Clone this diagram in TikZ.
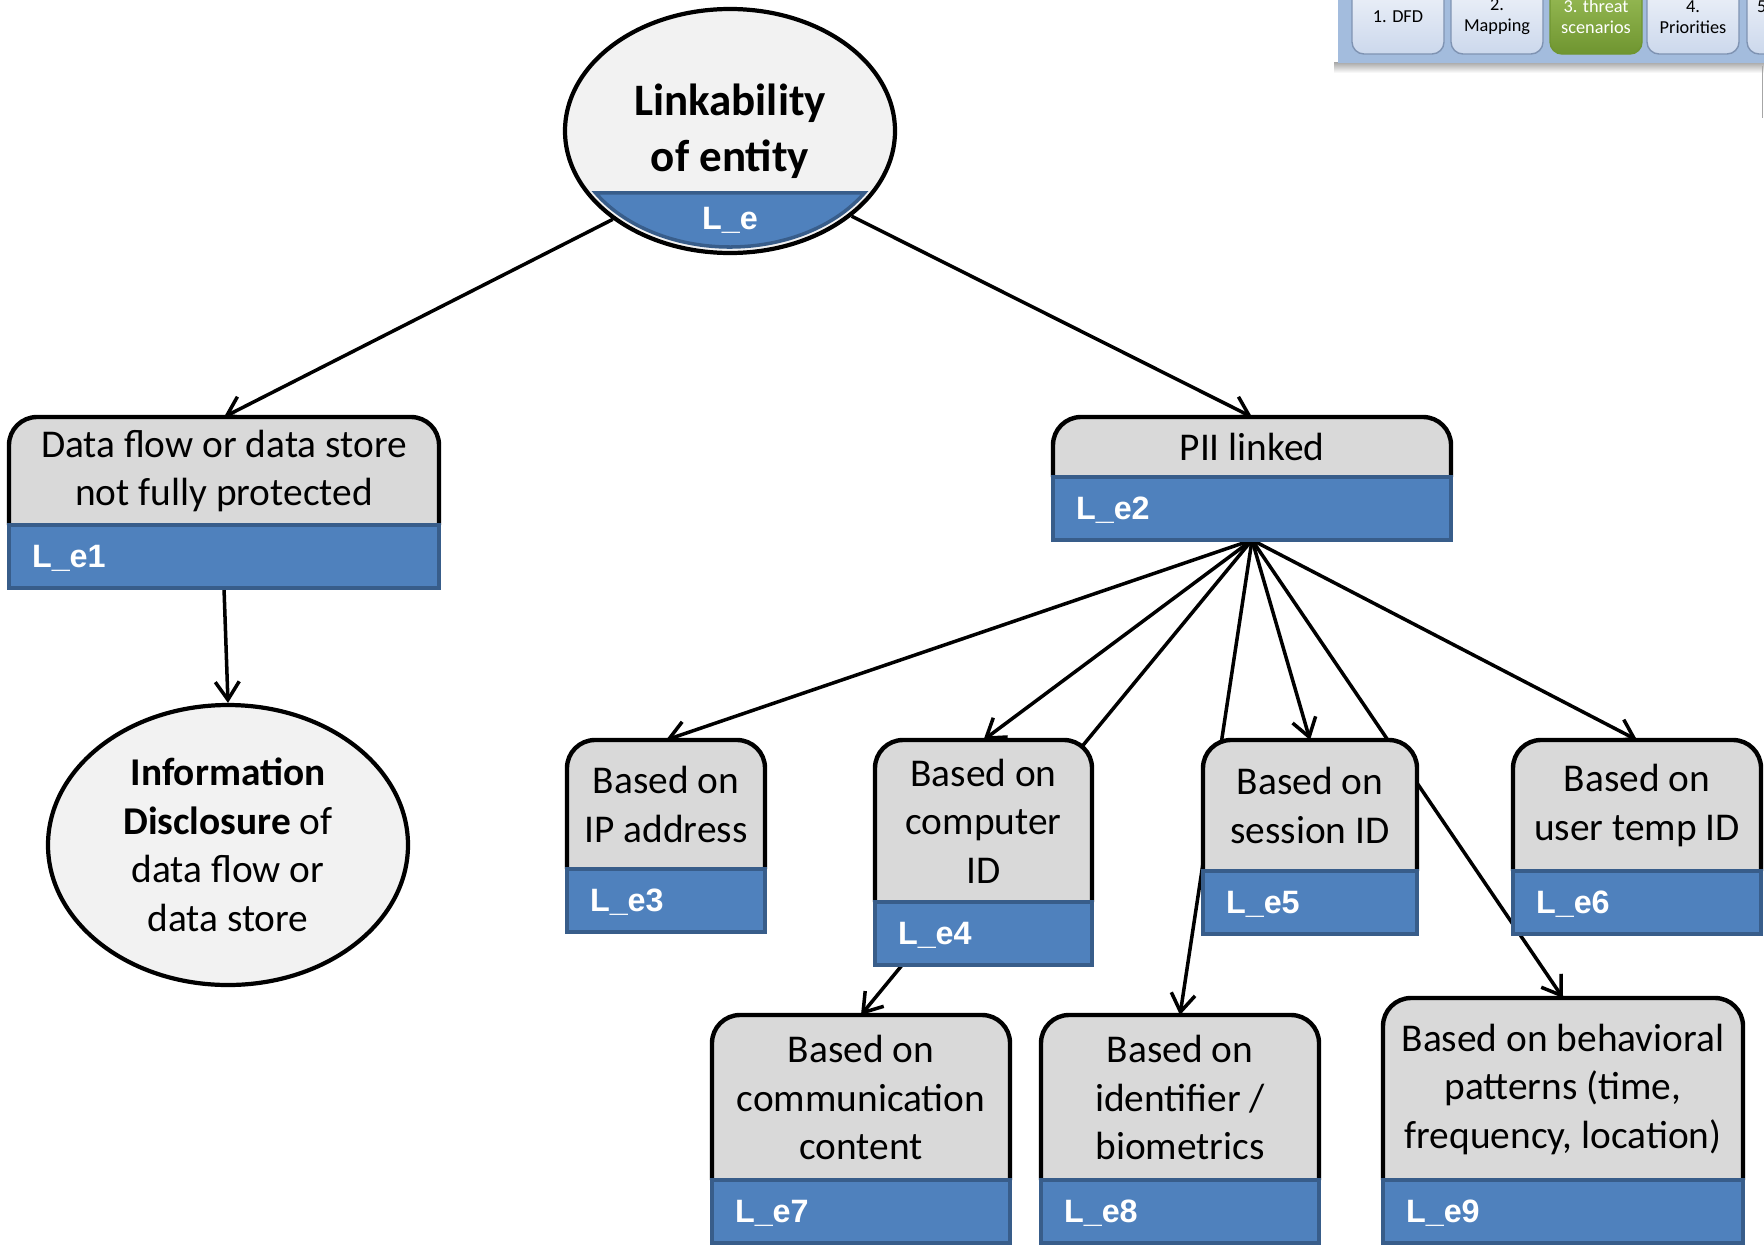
\documentclass[tikz,border=0pt]{standalone}
\usepackage{fontspec}
\setmainfont{Carlito}
\newfontfamily\labelfont{Liberation Sans}
\usetikzlibrary{arrows.meta,shapes.geometric,backgrounds}

\definecolor{boxgrey}{HTML}{D9D9D9}
\definecolor{ovalgrey}{HTML}{F2F2F2}
\definecolor{barblue}{HTML}{4F81BD}
\definecolor{bardark}{HTML}{385D8A}
\definecolor{panelblue}{HTML}{A3BCDD}
\definecolor{tabtop}{HTML}{F1F4FA}
\definecolor{tabbot}{HTML}{CCD8EC}
\definecolor{tabedge}{HTML}{7F93B2}
\definecolor{greentop}{HTML}{9DC05A}
\definecolor{greenbot}{HTML}{6F9530}

\tikzset{
  boxtext/.style={minimum width=#1, inner sep=0pt, outer sep=0pt, align=center,
    font=\fontsize{11.2}{13.8}\selectfont},
  greypart/.style={fill=boxgrey, draw=black, line width=1.25pt, rounded corners=0.28cm},
  bar/.style={fill=barblue, draw=bardark, line width=1pt, anchor=north,
    inner xsep=0.23cm, inner ysep=0pt, outer sep=0pt, minimum height=0.63cm,
    text width=#1, align=left, text depth=0pt, text=white,
    font=\labelfont\bfseries\fontsize{9.2}{9.2}\selectfont},
  oval/.style={ellipse, fill=ovalgrey, draw=black, line width=1.2pt, inner sep=0pt, align=center},
  arr/.style={line width=1pt, -{Straight Barb[length=1.8mm,width=2.4mm]}},
  tab/.style={rounded corners=0.12cm, draw=tabedge, line width=0.4pt, top color=tabtop,
    bottom color=tabbot, minimum width=0.92cm, minimum height=0.74cm, inner sep=0pt,
    align=center, font=\fontsize{5.2}{5.9}\selectfont}
}

\begin{document}
\begin{tikzpicture}

\useasboundingbox (0,0) rectangle (17.64,-12.47);

\begin{scope}
\clip (0,0) rectangle (17.64,-12.47);
\shade[top color=black!35, bottom color=white] (13.34,-0.62) rectangle (17.64,-0.73);
\fill[panelblue] (13.38,0.1) rectangle (17.70,-0.63);
\node[tab] (t1) at (13.98,-0.17) {1. DFD};
\node[tab] (t2) at (14.97,-0.17) {2.\\Mapping};
\node[tab, top color=greentop, bottom color=greenbot, draw=greenbot, text=white] (t3) at (15.96,-0.17) {3. threat\\scenarios};
\node[tab] (t4) at (16.93,-0.17) {4.\\Priorities};
\node[tab] (t5) at (17.93,-0.17) {};
\node[inner sep=0pt, font=\fontsize{5.2}{5.9}\selectfont] (t5lab) at (17.64,-0.07) {5.};
\draw[black!35, line width=0.5pt] (17.625,-0.66) -- (17.625,-1.18);
\end{scope}

\node[oval, minimum width=3.30cm, minimum height=2.44cm, font=\bfseries\fontsize{12.8}{15.9}\selectfont] (lk) at (7.30,-1.31) {Linkability\\of entity};
\filldraw[fill=barblue, draw=bardark, line width=1pt] ([shift={(-32.3:1.59 and 1.16)}]lk.center) arc[start angle=-32.3, end angle=-147.7, x radius=1.59cm, y radius=1.16cm] -- cycle;
\node[inner sep=0pt, text depth=0pt, text=white, font=\labelfont\bfseries\fontsize{9.2}{9.2}\selectfont] (lklab) at (7.30,-2.18) {L\_e};

\node[oval, minimum width=3.60cm, minimum height=2.80cm, font=\fontsize{11.2}{13.8}\selectfont] (info) at (2.28,-8.45) {\textbf{Information}\\\textbf{Disclosure} of\\data flow or\\data store};

\node[boxtext=4.30cm, minimum height=1.08cm] (e1) at (2.24,-4.71) {Data flow or data store\\not fully protected};
\node[bar=3.84cm] (e1bar) at (e1.south) {L\_e1};
\node[boxtext=3.98cm, minimum height=0.60cm] (e2) at (12.52,-4.47) {PII linked};
\node[bar=3.52cm] (e2bar) at (e2.south) {L\_e2};
\node[boxtext=1.98cm, minimum height=1.29cm] (e3) at (6.66,-8.045) {Based on\\IP address};
\node[bar=1.52cm] (e3bar) at (e3.south) {L\_e3};
\node[boxtext=2.17cm, minimum height=1.62cm] (e4) at (9.835,-8.21) {Based on\\computer\\ID};
\node[bar=1.71cm] (e4bar) at (e4.south) {L\_e4};
\node[boxtext=2.14cm, minimum height=1.31cm] (e5) at (13.10,-8.055) {Based on\\session ID};
\node[bar=1.68cm] (e5bar) at (e5.south) {L\_e5};
\node[boxtext=2.48cm, minimum height=1.31cm] (e6) at (16.37,-8.055) {Based on\\user temp ID};
\node[bar=2.02cm] (e6bar) at (e6.south) {L\_e6};
\node[boxtext=2.98cm, minimum height=1.65cm] (e7) at (8.61,-10.975) {Based on\\communication\\content};
\node[bar=2.52cm] (e7bar) at (e7.south) {L\_e7};
\node[boxtext=2.78cm, minimum height=1.65cm] (e8) at (11.80,-10.975) {Based on\\identifier /\\biometrics};
\node[bar=2.32cm] (e8bar) at (e8.south) {L\_e8};
\node[boxtext=3.60cm, minimum height=1.82cm] (e9) at (15.63,-10.89) {Based on behavioral\\patterns (time,\\frequency, location)};
\node[bar=3.14cm] (e9bar) at (e9.south) {L\_e9};

\begin{scope}[on background layer]

\begin{scope}[arr]
\draw (lk.-143) -- (e1.north);
\draw (lk.-35) -- (e2.north);
\draw (e1bar.south) -- (info.north);
\draw (e2bar.south) -- (e3.north);
\draw (e2bar.south) -- (e4.north);
\draw (e2bar.south) -- (e7.north);
\draw (e2bar.south) -- (e8.north);
\draw (e2bar.south) -- (e5.north);
\draw (e2bar.south) -- (e9.north);
\draw (e2bar.south) -- (e6.north);
\end{scope}

\filldraw[greypart] (e1.south west) -- (e1.north west) -- (e1.north east) -- (e1.south east);
\filldraw[greypart] (e2.south west) -- (e2.north west) -- (e2.north east) -- (e2.south east);
\filldraw[greypart] (e3.south west) -- (e3.north west) -- (e3.north east) -- (e3.south east);
\filldraw[greypart] (e4.south west) -- (e4.north west) -- (e4.north east) -- (e4.south east);
\filldraw[greypart] (e5.south west) -- (e5.north west) -- (e5.north east) -- (e5.south east);
\filldraw[greypart] (e6.south west) -- (e6.north west) -- (e6.north east) -- (e6.south east);
\filldraw[greypart] (e7.south west) -- (e7.north west) -- (e7.north east) -- (e7.south east);
\filldraw[greypart] (e8.south west) -- (e8.north west) -- (e8.north east) -- (e8.south east);
\filldraw[greypart] (e9.south west) -- (e9.north west) -- (e9.north east) -- (e9.south east);

\end{scope}

\end{tikzpicture}
\end{document}
